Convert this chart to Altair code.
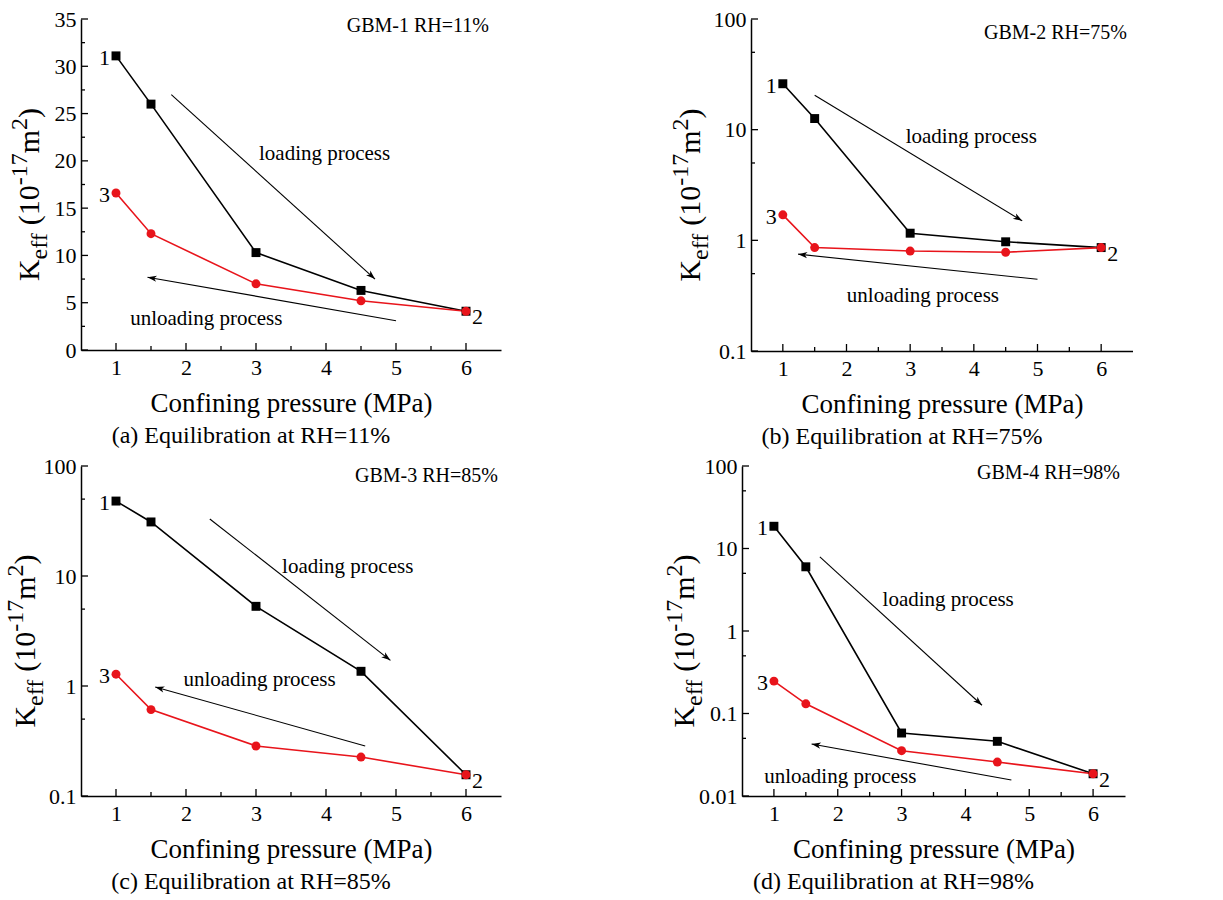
import math
import altair as alt
import pandas as pd

FONT = "Liberation Serif"
RED = "#e8141b"

# ---------------- data ----------------
pressure = [1, 1.5, 3, 4.5, 6]
x_major = [1, 2, 3, 4, 5, 6]
x_minor = [1.5, 2.5, 3.5, 4.5, 5.5]

a_loading = [31.1, 26.0, 10.3, 6.3, 4.1]
a_unloading = [16.6, 12.3, 7.0, 5.2, 4.1]
b_loading = [26.0, 12.6, 1.16, 0.97, 0.86]
b_unloading = [1.7, 0.86, 0.80, 0.78, 0.86]
c_loading = [48.0, 31.0, 5.3, 1.36, 0.156]
c_unloading = [1.28, 0.61, 0.285, 0.226, 0.156]
d_loading = [18.6, 6.0, 0.058, 0.046, 0.0186]
d_unloading = [0.247, 0.131, 0.0354, 0.0258, 0.0186]

# annotation arrows: x_start, y_start, x_end, y_end
a_load_arrow = [1.79, 27.0, 4.70, 7.5]
a_unload_arrow = [5.0, 3.1, 1.45, 7.7]
b_load_arrow = [1.5, 20.5, 4.76, 1.5]
b_unload_arrow = [5.0, 0.445, 1.24, 0.75]
c_load_arrow = [2.34, 33.0, 4.92, 1.71]
c_unload_arrow = [4.56, 0.285, 1.56, 0.98]
d_load_arrow = [1.72, 7.9, 4.26, 0.126]
d_unload_arrow = [4.72, 0.0156, 1.59, 0.0427]

# annotation text centres
a_load_text = [3.98, 20.7]
a_unload_text = [2.29, 3.3]
b_load_text = [3.96, 8.5]
b_unload_text = [3.2, 0.315]
c_load_text = [4.31, 12.2]
c_unload_text = [3.05, 1.13]
d_load_text = [3.73, 2.36]
d_unload_text = [2.04, 0.0171]

samples = ["GBM-1 RH=11%", "GBM-2 RH=75%", "GBM-3 RH=85%", "GBM-4 RH=98%"]
captions = ["(a) Equilibration at RH=11%", "(b) Equilibration at RH=75%",
            "(c) Equilibration at RH=85%", "(d) Equilibration at RH=98%"]

lin_major = [0, 5, 10, 15, 20, 25, 30, 35]
lin_minor = [2.5, 7.5, 12.5, 17.5, 22.5, 27.5, 32.5]
log3_major = [0.1, 1, 10, 100]
log3_minor = [0.5, 5, 50]
log4_major = [0.01, 0.1, 1, 10, 100]
log4_minor = [0.05, 0.5, 5, 50]

XDOM = [0.5, 6.5]
ARROW = "M0,0L-2.2,-0.75L-1.6,0L-2.2,0.75Z"

CHAR_W = {"K": .722, "e": .444, "f": .333, "(": .333, "1": .5, "0": .5, "-": .333,
          "7": .5, "m": .778, "2": .5, ")": .333, " ": .25}


def tw(s, size):
    return sum(CHAR_W[c] for c in s) * size


def panel(p):
    W, H = p["W"], p["H"]
    log = p["type"] == "log"
    d0, d1 = p["domain"]

    if log:
        ysc = alt.Scale(type="log", domain=p["domain"], nice=False)
    else:
        ysc = alt.Scale(type="linear", domain=p["domain"], nice=False, zero=False)
    xsc = alt.Scale(domain=XDOM, nice=False, zero=False)

    xaxis = alt.Axis(values=x_major, ticks=False, labelPadding=7, grid=False,
                     title="Confining pressure (MPa)", titleFont=FONT, titleFontSize=27,
                     titleFontWeight="normal", titleColor="black", titlePadding=12,
                     labelFont=FONT, labelFontSize=22, labelColor="black", labelFlush=False,
                     domainColor="black", domainWidth=1.5)
    yaxis = alt.Axis(values=p["ymajor"], format=p["fmt"], ticks=False, labelPadding=5, grid=False,
                     title=None, labelFont=FONT, labelFontSize=22, labelColor="black",
                     labelFlush=False, labelOverlap=False,
                     domainColor="black", domainWidth=1.5)
    X = alt.X("x:Q", scale=xsc, axis=xaxis)
    Y = alt.Y("y:Q", scale=ysc, axis=yaxis)

    def px(x, y):
        xx = (x - XDOM[0]) / (XDOM[1] - XDOM[0]) * W
        if log:
            yy = H * (1 - (math.log10(y) - math.log10(d0)) / (math.log10(d1) - math.log10(d0)))
        else:
            yy = H * (1 - (y - d0) / (d1 - d0))
        return xx, yy

    layers = []
    # inner ticks
    layers.append(alt.Chart(pd.DataFrame({"x": x_major})).mark_rule(color="black", strokeWidth=1.3)
                  .encode(x=X, y=alt.value(H), y2=alt.value(H - 7)))
    layers.append(alt.Chart(pd.DataFrame({"x": x_minor})).mark_rule(color="black", strokeWidth=1.3)
                  .encode(x=X, y=alt.value(H), y2=alt.value(H - 4)))
    layers.append(alt.Chart(pd.DataFrame({"y": p["ymajor"]})).mark_rule(color="black", strokeWidth=1.3)
                  .encode(y=Y, x=alt.value(0), x2=alt.value(7)))
    layers.append(alt.Chart(pd.DataFrame({"y": p["yminor"]})).mark_rule(color="black", strokeWidth=1.3)
                  .encode(y=Y, x=alt.value(0), x2=alt.value(4)))

    load = pd.DataFrame({"x": pressure, "y": p["load"]})
    unload = pd.DataFrame({"x": pressure, "y": p["unload"]})
    layers.append(alt.Chart(load).mark_line(color="black", strokeWidth=1.6).encode(x=X, y=Y))
    layers.append(alt.Chart(unload).mark_line(color=RED, strokeWidth=1.6).encode(x=X, y=Y))
    layers.append(alt.Chart(load).mark_point(shape="square", filled=True, size=80, color="black", opacity=1)
                  .encode(x=X, y=Y))
    layers.append(alt.Chart(unload).mark_point(shape="circle", filled=True, size=80, color=RED, opacity=1)
                  .encode(x=X, y=Y))

    # arrows
    arr = pd.DataFrame([p["la"], p["ua"]], columns=["x", "y", "x2", "y2"])
    layers.append(alt.Chart(arr).mark_rule(color="black", strokeWidth=1.1)
                  .encode(x=X, y=Y, x2="x2:Q", y2="y2:Q"))
    heads = []
    for a in (p["la"], p["ua"]):
        x1, y1 = px(a[0], a[1])
        x2, y2 = px(a[2], a[3])
        ang = math.degrees(math.atan2(y2 - y1, x2 - x1)) % 360
        heads.append({"x": a[2], "y": a[3], "ang": ang})
    layers.append(alt.Chart(pd.DataFrame(heads)).mark_point(shape=ARROW, filled=True, size=70,
                                                            color="black", opacity=1, strokeWidth=0)
                  .encode(x=X, y=Y, angle=alt.Angle("ang:Q", scale=None)))

    txt = pd.DataFrame({"x": [p["lt"][0], p["ut"][0]], "y": [p["lt"][1], p["ut"][1]],
                        "t": ["loading process", "unloading process"]})
    layers.append(alt.Chart(txt).mark_text(font=FONT, fontSize=21, color="black")
                  .encode(x=X, y=Y, text="t:N"))

    # point numbers
    lab_l = pd.DataFrame({"x": [1, 1], "y": [p["load"][0], p["unload"][0]], "t": ["1", "3"]})
    layers.append(alt.Chart(lab_l).mark_text(font=FONT, fontSize=22, color="black", align="right",
                                             baseline="middle", dx=-6, dy=2)
                  .encode(x=X, y=Y, text="t:N"))
    lab_r = pd.DataFrame({"x": [6], "y": [p["load"][-1]], "t": ["2"]})
    layers.append(alt.Chart(lab_r).mark_text(font=FONT, fontSize=22, color="black", align="left",
                                             baseline="middle", dx=6, dy=6)
                  .encode(x=X, y=Y, text="t:N"))

    # sample label
    layers.append(alt.Chart(pd.DataFrame({"t": [p["sample"]]}))
                  .mark_text(font=FONT, fontSize=20, color="black", align="right", baseline="middle")
                  .encode(x=alt.value(W - p["s_right"]), y=alt.value(p["s_top"]), text="t:N"))

    # y title with sub/superscripts
    F, s = 30, 24
    pieces = [("K", F, 0), ("eff", s, 8), ("(10", F, 0), ("-17", s, -12), ("m", F, 0), ("2", s, -12), (")", F, 0)]
    widths = []
    for t, size, _ in pieces:
        w = tw(t, size)
        if t == "(10":
            w += tw(" ", F)
        widths.append(w)
    total = sum(widths)
    start_y = H / 2 + 10 + total / 2
    cum = 0
    for (t, size, dy), w in zip(pieces, widths):
        off = cum + (tw(" ", F) if t == "(10" else 0)
        layers.append(alt.Chart(pd.DataFrame({"t": [t]}))
                      .mark_text(font=FONT, fontSize=size, color="black", align="left",
                                 baseline="alphabetic", angle=270, dx=off, dy=dy)
                      .encode(x=alt.value(p["ytitle_x"]), y=alt.value(start_y), text="t:N"))
        cum += w

    return alt.layer(*layers).properties(
        width=W, height=H,
        title=alt.TitleParams(p["caption"], orient="bottom", anchor="middle", dx=-40,
                              font=FONT, fontSize=24, fontWeight="normal", color="black", offset=8))


specs = [
    dict(W=420, H=331, type="linear", domain=[0, 35], ymajor=lin_major, yminor=lin_minor, fmt="d",
         load=a_loading, unload=a_unloading, la=a_load_arrow, ua=a_unload_arrow,
         lt=a_load_text, ut=a_unload_text, sample=samples[0], caption=captions[0],
         s_right=12, s_top=7, ytitle_x=-42),
    dict(W=382, H=332, type="log", domain=[0.1, 100], ymajor=log3_major, yminor=log3_minor, fmt="~g",
         load=b_loading, unload=b_unloading, la=b_load_arrow, ua=b_unload_arrow,
         lt=b_load_text, ut=b_unload_text, sample=samples[1], caption=captions[1],
         s_right=6, s_top=14, ytitle_x=-51),
    dict(W=420, H=330, type="log", domain=[0.1, 100], ymajor=log3_major, yminor=log3_minor, fmt="~g",
         load=c_loading, unload=c_unloading, la=c_load_arrow, ua=c_unload_arrow,
         lt=c_load_text, ut=c_unload_text, sample=samples[2], caption=captions[2],
         s_right=3, s_top=10, ytitle_x=-46),
    dict(W=383, H=330, type="log", domain=[0.01, 100], ymajor=log4_major, yminor=log4_minor, fmt="~g",
         load=d_loading, unload=d_unloading, la=d_load_arrow, ua=d_unload_arrow,
         lt=d_load_text, ut=d_unload_text, sample=samples[3], caption=captions[3],
         s_right=5, s_top=7, ytitle_x=-48),
]

pa, pb, pc, pd_ = [panel(s) for s in specs]

top = alt.hconcat(pa, pb, spacing=167)
bottom = alt.hconcat(pc, pd_, spacing=161)
chart = (alt.vconcat(top, bottom, spacing=6)
         .configure_view(stroke=None)
         .properties(padding={"left": 3, "top": 8, "right": 0, "bottom": 0}, background="white"))

chart.save("out.html", embed_options={"renderer": "svg", "actions": False})
